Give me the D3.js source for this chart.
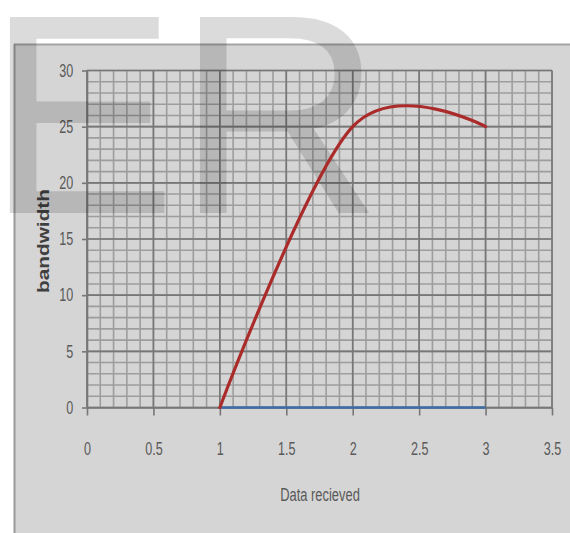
<!DOCTYPE html>
<html><head><meta charset="utf-8">
<script src="https://cdn.jsdelivr.net/npm/d3@7"></script>
<style>body{margin:0;background:#fff}svg{display:block}</style>
</head><body><svg id="c" width="570" height="533"></svg>
<script>
// ---- data ----
const seriesX = [1, 2, 3];
const bandwidth = [0, 25, 25];
const baseSeries = [0, 0, 0];
const xTicks = [0, 0.5, 1, 1.5, 2, 2.5, 3, 3.5];
const yTicks = [0, 5, 10, 15, 20, 25, 30];
const xLabel = "Data recieved";
const yLabel = "bandwidth";
const watermark = "ER";

const svg = d3.select("#c");
const x = d3.scaleLinear().domain([0, 3.5]).range([87, 552]);
const y = d3.scaleLinear().domain([0, 30]).range([407.5, 70.5]);

// panel
svg.append("rect").attr("x", 14).attr("y", 44).attr("width", 600).attr("height", 520).attr("fill", "#d5d5d5");
svg.append("line").attr("x1", 14).attr("x2", 570).attr("y1", 44.5).attr("y2", 44.5).attr("stroke", "#a3a3a3").attr("stroke-width", 2);
svg.append("line").attr("x1", 14.5).attr("x2", 14.5).attr("y1", 44).attr("y2", 533).attr("stroke", "#9a9a9a").attr("stroke-width", 2);

// grid
const g = svg.append("g");
const xMinor = d3.range(0, 35.5, 1).map(d => d / 10);
const yMinor = d3.range(0, 30.5, 1);
g.selectAll(".vm").data(xMinor).join("line")
  .attr("x1", d => x(d)).attr("x2", d => x(d)).attr("y1", y(30)).attr("y2", y(0))
  .attr("stroke", "#9d9d9d").attr("stroke-width", 1.6);
g.selectAll(".hm").data(yMinor).join("line")
  .attr("x1", x(0)).attr("x2", x(3.5)).attr("y1", d => y(d)).attr("y2", d => y(d))
  .attr("stroke", "#9d9d9d").attr("stroke-width", 1.6);
g.selectAll(".vM").data(xTicks).join("line")
  .attr("x1", d => x(d)).attr("x2", d => x(d)).attr("y1", y(30)).attr("y2", y(0))
  .attr("stroke", "#777").attr("stroke-width", 1.6);
g.selectAll(".hM").data(yTicks).join("line")
  .attr("x1", x(0)).attr("x2", x(3.5)).attr("y1", d => y(d)).attr("y2", d => y(d))
  .attr("stroke", "#777").attr("stroke-width", 1.6);

// axes
const fmt = d => String(d);
const xa = svg.append("g").attr("transform", `translate(0,${y(0)})`)
  .call(d3.axisBottom(x).tickValues(xTicks).tickFormat(fmt).tickSize(8).tickSizeOuter(0).tickPadding(27));
const ya = svg.append("g").attr("transform", `translate(${x(0)},0)`)
  .call(d3.axisLeft(y).tickValues(yTicks).tickFormat(fmt).tickSize(5).tickSizeOuter(0).tickPadding(14.5));
[xa, ya].forEach(a => {
  a.select(".domain").attr("stroke", "#777").attr("stroke-width", 1.6);
  a.selectAll(".tick line").attr("stroke", "#777").attr("stroke-width", 1.6);
  a.selectAll(".tick text").attr("fill", "#5a5a5a")
    .style("font-family", "'Liberation Sans', Arial, sans-serif").style("font-size", "18px")
    .attr("transform", "scale(0.7,1)");
});

// axis titles
svg.append("text").attr("transform", "translate(320,501) scale(0.68,1)")
  .attr("text-anchor", "middle").attr("fill", "#595959")
  .style("font-family", "'Liberation Sans', Arial, sans-serif").style("font-size", "19px")
  .text(xLabel);
svg.append("text").attr("transform", "translate(49,241) rotate(-90) scale(1.3,1)")
  .attr("text-anchor", "middle").attr("fill", "#404040").attr("font-weight", "bold")
  .style("font-family", "'Liberation Sans', Arial, sans-serif").style("font-size", "16px")
  .text(yLabel);

// watermark
svg.append("text").attr("x", -13.5).attr("y", 213)
  .attr("fill", "#000").attr("fill-opacity", 0.14)
  .style("font-family", "'Liberation Sans', Arial, sans-serif").style("font-size", "285px")
  .text(watermark);

// series
const pts = (ys) => seriesX.map((d, i) => [d, ys[i]]);
const line = d3.line().x(d => x(d[0])).y(d => y(d[1])).curve(d3.curveCardinal.tension(0));
svg.append("path").attr("d", line(pts(baseSeries))).attr("fill", "none")
  .attr("stroke", "#3d6ca6").attr("stroke-width", 2.6);
svg.append("path").attr("d", line(pts(bandwidth))).attr("fill", "none")
  .attr("stroke", "#ab2b2b").attr("stroke-width", 3.2).attr("stroke-linecap", "round");
</script></body></html>
